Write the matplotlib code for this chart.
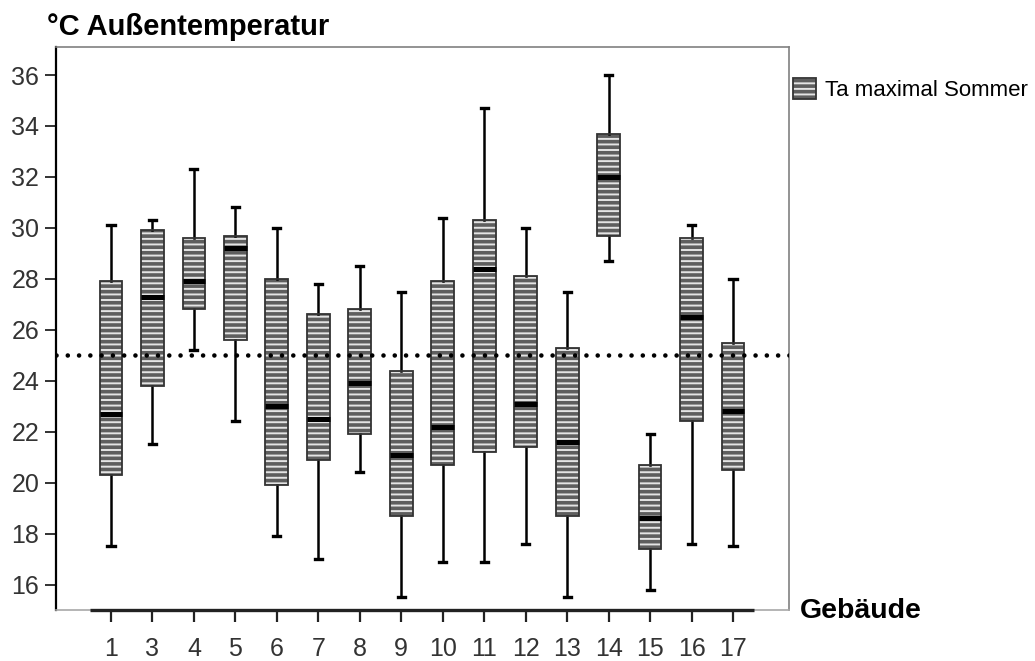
import matplotlib
matplotlib.use('Agg')
import matplotlib.pyplot as plt
from matplotlib.patches import Patch, PathPatch

plt.rcParams['font.family'] = ['Liberation Sans', 'DejaVu Sans']
plt.rcParams['hatch.linewidth'] = 2.6

# Data
labels = ['1', '3', '4', '5', '6', '7', '8', '9', '10', '11', '12', '13', '14', '15', '16', '17']
whis_hi = [30.1, 30.3, 32.3, 30.8, 30.0, 27.8, 28.5, 27.5, 30.4, 34.7, 30.0, 27.5, 36.0, 21.9, 30.1, 28.0]
q3 = [27.9, 29.9, 29.6, 29.7, 28.0, 26.6, 26.8, 24.4, 27.9, 30.3, 28.1, 25.3, 33.7, 20.7, 29.6, 25.5]
median = [22.7, 27.3, 27.9, 29.2, 23.0, 22.5, 23.9, 21.1, 22.2, 28.4, 23.1, 21.6, 32.0, 18.6, 26.5, 22.8]
q1 = [20.3, 23.8, 26.8, 25.6, 19.9, 20.9, 21.9, 18.7, 20.7, 21.2, 21.4, 18.7, 29.7, 17.4, 22.4, 20.5]
whis_lo = [17.5, 21.5, 25.2, 22.4, 17.9, 17.0, 20.4, 15.5, 16.9, 16.9, 17.6, 15.5, 28.7, 15.8, 17.6, 17.5]
reference_value = 25.0
series_name = 'Ta maximal Sommer'

W, H = 1035, 661
fig = plt.figure(figsize=(W / 100, H / 100), dpi=100)
ax = fig.add_axes([56 / W, 1 - 610 / H, (789 - 56) / W, (610 - 47) / H])

stats = [dict(label=l, med=m, q1=a, q3=b, whislo=lo, whishi=hi, fliers=[])
         for l, m, a, b, lo, hi in zip(labels, median, q1, q3, whis_lo, whis_hi)]
positions = list(range(len(labels)))

face = '#e4e4e4'
stripe = '#5e5e5e'
bp = ax.bxp(stats, positions=positions, widths=0.55, patch_artist=True,
            showfliers=False, capwidths=0.17,
            boxprops=dict(facecolor=face, edgecolor=stripe, linewidth=0, hatch='---'),
            whiskerprops=dict(color='black', linewidth=1.8),
            capprops=dict(color='black', linewidth=2.4),
            medianprops=dict(color='black', linewidth=3.6, solid_capstyle='butt'))
for box in bp['boxes']:
    ax.add_patch(PathPatch(box.get_path(), fill=False, edgecolor='#333333',
                           linewidth=1.3, zorder=2.05))

ax.axhline(reference_value, color='black', lw=3.3, linestyle=(0, (0.01, 2.45)),
           dash_capstyle='round', zorder=5)

ax.set_xlim(-1.326, 16.35)
ax.set_ylim(15, 37.1)
ax.set_yticks(range(16, 37, 2))
ax.set_xticks(positions)
ax.set_xticklabels(labels)

for s in ['top', 'right']:
    ax.spines[s].set_color('#808080')
    ax.spines[s].set_linewidth(1.2)
ax.spines['bottom'].set_color('#a8a8a8')
ax.spines['bottom'].set_linewidth(1.2)
ax.spines['left'].set_color('black')
ax.spines['left'].set_linewidth(1.6)
ax.plot([-0.5, len(labels) - 0.5], [0, 0], transform=ax.get_xaxis_transform(),
        color='#222222', lw=2.4, clip_on=False, zorder=6, solid_capstyle='butt')

ax.tick_params(axis='y', length=8, width=1.3, color='#222222', pad=4,
               labelsize=18, labelcolor='#333333')
ax.tick_params(axis='x', length=8.5, width=1.6, color='#222222', pad=11,
               labelsize=18, labelcolor='#333333')

fig.text(47 / W, 1 - 35 / H, '°C Außentemperatur', fontsize=21, weight='bold',
         va='baseline', ha='left')
fig.text(800 / W, 1 - 618 / H, 'Gebäude', fontsize=20.5, weight='bold',
         va='baseline', ha='left')

hpatch = Patch(facecolor=face, edgecolor=stripe, hatch='---', linewidth=0)
opatch = Patch(fill=False, edgecolor='#333333', linewidth=1.3)
fig.legend(handles=[(hpatch, opatch)], labels=[series_name], loc='upper left',
           bbox_to_anchor=(793 / W, 1 - 78 / H), frameon=False, fontsize=16,
           handlelength=1.05, handleheight=1.1, handletextpad=0.4,
           borderpad=0, borderaxespad=0)

fig.savefig('out.png', dpi=100)
